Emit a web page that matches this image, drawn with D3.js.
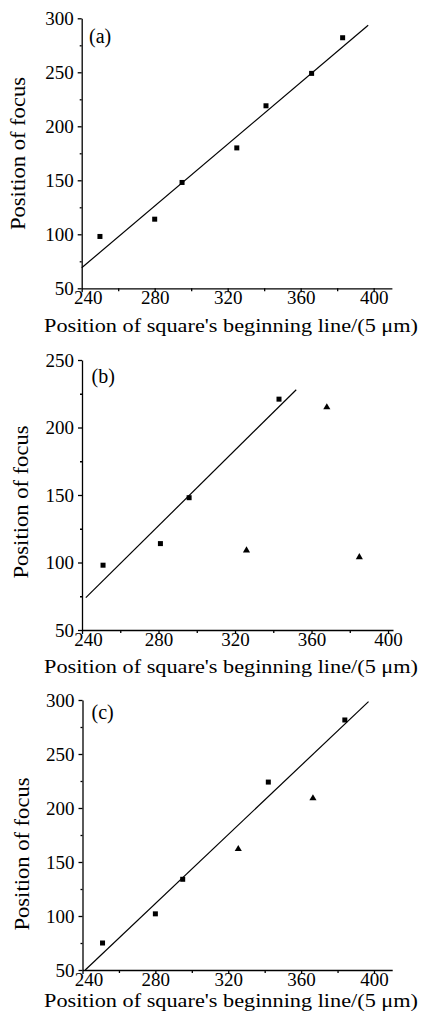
<!DOCTYPE html>
<html>
<head>
<meta charset="utf-8">
<script src="https://cdn.jsdelivr.net/npm/d3@7"></script>
</head>
<body style="margin:0">
<svg id="chart" width="425" height="1019" viewBox="0 0 425 1019" style="font-family:'Liberation Serif'"></svg>
<script>
// panel (a)
const aSquareX = [250, 280, 295, 325, 341, 366, 383];
const aSquareY = [98, 114, 148, 180, 219, 249, 282];
const aFit = [[240, 69], [397, 293.5]];

// panel (b)
const bSquareX = [251, 281, 296, 343];
const bSquareY = [98, 114, 148, 221];
const bTriangleX = [326, 368, 385];
const bTriangleY = [109, 215, 104];
const bFit = [[242, 74], [352, 228]];

// panel (c)
const cSquareX = [251, 280, 295, 342, 384];
const cSquareY = [75, 102, 134, 224, 281.5];
const cTriangleX = [325.5, 366.5];
const cTriangleY = [162, 209];
const cFit = [[241.5, 50], [397, 298.5]];

const xMajorTicks = [240, 280, 320, 360, 400];
const xMinorTicks = [260, 300, 340, 380];
const yMajorA = [50, 100, 150, 200, 250, 300];
const yMajorB = [50, 100, 150, 200, 250];

const xTitle = "Position of square's beginning line/(5 \u03bcm)";
const yTitle = "Position of focus";

const zip = (xs, ys) => xs.map((x, i) => [x, ys[i]]);
const halves = (ticks) => ticks.slice(0, -1).map((t, i) => (t + ticks[i + 1]) / 2);
const fontStyle = (size) => `font-family:'Liberation Serif'; font-size:${size}px`;

const panels = [
    {
        label: "(a)", squares: zip(aSquareX, aSquareY), triangles: [], fit: aFit,
        xDomain: [240, 410], xRange: [81.7, 391.9],
        yDomain: [50, 300], yRange: [288.3, 18.3], yTicks: yMajorA,
        labelPos: [89, 42.5], yTitlePos: [25, 153.5], xTitleY: 331.5
    },
    {
        label: "(b)", squares: zip(bSquareX, bSquareY), triangles: zip(bTriangleX, bTriangleY), fit: bFit,
        xDomain: [240, 402.6], xRange: [82, 393],
        yDomain: [50, 250], yRange: [630, 360], yTicks: yMajorB,
        labelPos: [91.5, 382.5], yTitlePos: [28, 502], xTitleY: 673
    },
    {
        label: "(c)", squares: zip(cSquareX, cSquareY), triangles: zip(cTriangleX, cTriangleY), fit: cFit,
        xDomain: [240, 410], xRange: [82.5, 392.2],
        yDomain: [50, 300], yRange: [970, 700], yTicks: yMajorA,
        labelPos: [91.5, 719], yTitlePos: [29, 854], xTitleY: 1006.5
    }
];

const svg = d3.select("#chart");

const drawPanel = (p) => {
    const x = d3.scaleLinear().domain(p.xDomain).range(p.xRange);
    const y = d3.scaleLinear().domain(p.yDomain).range(p.yRange);
    const g = svg.append("g");
    const x0 = p.xRange[0];
    const y0 = p.yRange[0];

    // x axis
    g.append("g")
        .attr("transform", `translate(0, ${y0})`)
        .call(d3.axisBottom(x).tickValues(xMajorTicks).tickSize(4).tickSizeOuter(0))
        .call(a => a.selectAll(".tick text")
            .attr("y", 16)
            .attr("dy", 0)
            .attr("x", d => d === 240 ? 6 : 0));
    g.append("g")
        .attr("transform", `translate(0, ${y0})`)
        .call(d3.axisBottom(x).tickValues(xMinorTicks).tickSize(3).tickSizeOuter(0).tickFormat(""))
        .call(a => a.select(".domain").remove());

    // y axis
    g.append("g")
        .attr("transform", `translate(${x0}, 0)`)
        .call(d3.axisLeft(y).tickValues(p.yTicks).tickSize(4).tickSizeOuter(0).tickPadding(4));
    g.append("g")
        .attr("transform", `translate(${x0}, 0)`)
        .call(d3.axisLeft(y).tickValues(halves(p.yTicks)).tickSize(2).tickSizeOuter(0).tickFormat(""))
        .call(a => a.select(".domain").remove());

    g.selectAll("g").attr("font-family", null).attr("font-size", null);
    g.selectAll(".domain, .tick line").attr("stroke", "#000").attr("stroke-width", 1.3);
    g.selectAll(".tick text")
        .attr("style", fontStyle(19))
        .attr("fill", "#000");

    // fit line
    g.append("line")
        .attr("x1", x(p.fit[0][0])).attr("y1", y(p.fit[0][1]))
        .attr("x2", x(p.fit[1][0])).attr("y2", y(p.fit[1][1]))
        .attr("stroke", "#000")
        .attr("stroke-width", 1.2);

    // square points
    const s = 5;
    g.selectAll(".sq")
        .data(p.squares)
        .join("rect")
        .attr("class", "sq")
        .attr("x", d => x(d[0]) - s / 2)
        .attr("y", d => y(d[1]) - s / 2)
        .attr("width", s)
        .attr("height", s)
        .attr("fill", "#000");

    // triangle points
    const tri = d3.symbol().type(d3.symbolTriangle).size(22);
    g.selectAll(".tri")
        .data(p.triangles)
        .join("path")
        .attr("class", "tri")
        .attr("transform", d => `translate(${x(d[0])}, ${y(d[1])})`)
        .attr("d", tri)
        .attr("fill", "#000");

    // panel label
    g.append("text")
        .attr("x", p.labelPos[0])
        .attr("y", p.labelPos[1])
        .attr("style", fontStyle(20))
        .text(p.label);

    // axis titles
    g.append("text")
        .attr("x", 44)
        .attr("y", p.xTitleY)
        .attr("style", fontStyle(19.5))
        .attr("textLength", 374)
        .attr("lengthAdjust", "spacingAndGlyphs")
        .text(xTitle);

    g.append("text")
        .attr("transform", `translate(${p.yTitlePos[0]}, ${p.yTitlePos[1]}) rotate(-90)`)
        .attr("text-anchor", "middle")
        .attr("style", fontStyle(20))
        .attr("textLength", 153)
        .attr("lengthAdjust", "spacingAndGlyphs")
        .text(yTitle);
};

panels.forEach(drawPanel);
</script>
</body>
</html>
